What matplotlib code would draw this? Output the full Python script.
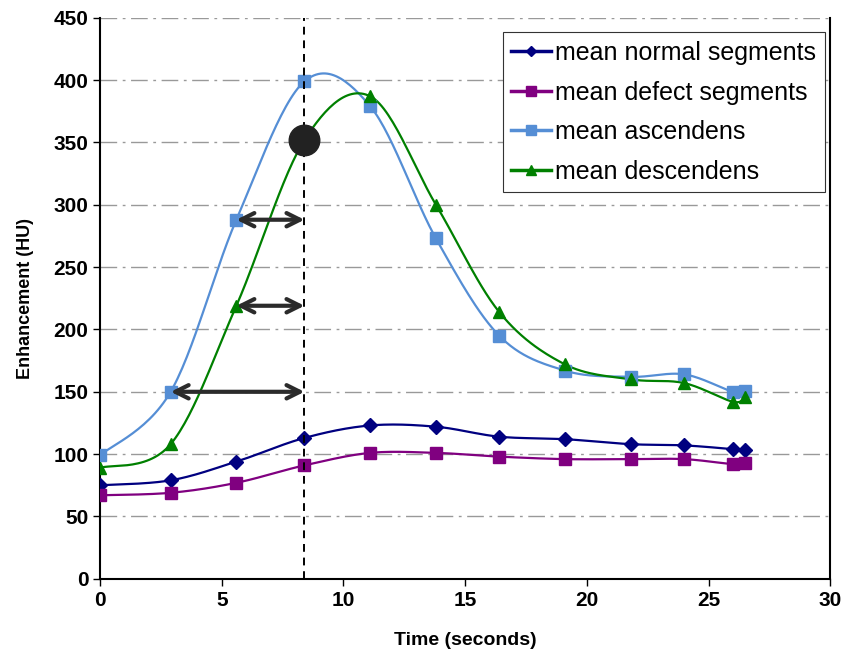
import matplotlib.pyplot as plt
import numpy as np

# data
t_time = [0, 2.9, 5.6, 8.4, 11.1, 13.8, 16.4, 19.1, 21.8, 24.0, 26.0, 26.5]
normal = [75, 79, 94, 113, 123, 122, 114, 112, 108, 107, 104, 103]
defect = [67, 69, 77, 91, 101, 101, 98, 96, 96, 96, 92, 93]
ascendens = [99, 150, 288, 399, 379, 273, 195, 167, 162, 164, 150, 151]
descendens = [89, 108, 219, 352, 387, 300, 214, 172, 160, 157, 142, 146]

t_mark = 8.4
arrow_rows = [(5.6, 288), (5.6, 219), (2.9, 150)]


def smooth(x, y, n=30):
    # Catmull-Rom style smoothing like Excel's "smoothed line"
    x = np.asarray(x, float)
    y = np.asarray(y, float)
    px = np.concatenate([[x[0]], x, [x[-1]]])
    py = np.concatenate([[y[0]], y, [y[-1]]])
    xs, ys = [], []
    s = np.linspace(0, 1, n)
    for i in range(1, len(px) - 2):
        p0 = np.array([px[i], py[i]])
        p3 = np.array([px[i + 1], py[i + 1]])
        c1 = p0 + (np.array([px[i + 1], py[i + 1]]) - np.array([px[i - 1], py[i - 1]])) / 6
        c2 = p3 - (np.array([px[i + 2], py[i + 2]]) - np.array([px[i], py[i]])) / 6
        b = ((1 - s) ** 3)[:, None] * p0 + (3 * (1 - s) ** 2 * s)[:, None] * c1 \
            + (3 * (1 - s) * s ** 2)[:, None] * c2 + (s ** 3)[:, None] * p3
        xs.extend(b[:, 0])
        ys.extend(b[:, 1])
    return xs, ys


fig = plt.figure(figsize=(8.48, 6.57), dpi=100)
ax = fig.add_axes([0.118, 0.119, 0.861, 0.854])

series = [
    (normal, '#000080', 'D', 7, 'mean normal segments'),
    (defect, '#800080', 's', 9, 'mean defect segments'),
    (ascendens, '#558ED5', 's', 9, 'mean ascendens'),
    (descendens, '#008000', '^', 9, 'mean descendens'),
]
for vals, col, mk, ms, lab in series:
    sx, sy = smooth(t_time, vals)
    ax.plot(sx, sy, color=col, lw=1.6, zorder=3)
    ax.plot(t_time, vals, ls='none', marker=mk, ms=ms, color=col, zorder=4)
    ax.plot([], [], color=col, lw=2.5, marker=mk, ms=ms * 0.75, label=lab)

ax.axvline(t_mark, color='black', ls=(0, (4, 3)), lw=1.4, zorder=5)
ax.plot(t_mark, descendens[3], 'o', color='#222222', ms=22, zorder=6)

for x0, y0 in arrow_rows:
    ax.annotate('', xy=(t_mark, y0), xytext=(x0, y0),
                arrowprops=dict(arrowstyle='<->', color='#2b2b2b', lw=3,
                                mutation_scale=24, shrinkA=0, shrinkB=0),
                zorder=6)

ax.set_xlim(0, 30)
ax.set_ylim(0, 450)
ax.set_xticks(range(0, 31, 5))
ax.set_yticks(range(0, 451, 50))
ax.yaxis.grid(True, color='#999999', ls=(0, (12, 4, 2, 4)), lw=1)
ax.set_axisbelow(True)
for side in ['left', 'bottom', 'right']:
    ax.spines[side].set_linewidth(1.5)
ax.spines['top'].set_visible(False)
ax.tick_params(direction='out', length=5, width=1)

fam = ['Liberation Sans Narrow', 'Liberation Sans', 'DejaVu Sans']
for lbl in ax.get_xticklabels() + ax.get_yticklabels():
    lbl.set_fontfamily(fam)
    lbl.set_fontweight('bold')
    lbl.set_fontsize(15)
ax.set_xlabel('Time (seconds)', fontsize=14, fontweight='bold', family=fam, labelpad=16)
ax.set_ylabel('Enhancement (HU)', fontsize=13, fontweight='bold',
              family=['Liberation Sans', 'DejaVu Sans'], labelpad=14)

leg = ax.legend(loc='upper right', bbox_to_anchor=(0.9995, 0.983),
                prop={'family': ['Liberation Sans', 'DejaVu Sans'], 'size': 18},
                handlelength=1.6, handletextpad=0.15, labelspacing=0.62,
                borderpad=0.35, borderaxespad=0.2, fancybox=False,
                edgecolor='#333333', framealpha=1)
leg.get_frame().set_linewidth(0.8)

fig.savefig('out.png', dpi=100)
